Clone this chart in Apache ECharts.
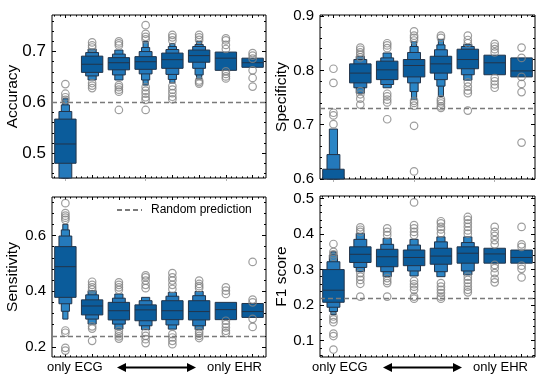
<!DOCTYPE html>
<html><head><meta charset="utf-8">
<script src="https://cdn.jsdelivr.net/npm/echarts@6.0.0/dist/echarts.min.js"></script>
<style>html,body{margin:0;padding:0;background:#fff}#c{width:550px;height:385px}</style>
</head><body><div id="c"></div>
<script>
// ---------------- data ----------------
const categories = ['only ECG', 'mix 1', 'mix 2', 'mix 3', 'mix 4', 'mix 5', 'mix 6', 'only EHR'];
const metricNames = ['Accuracy', 'Specificity', 'Sensitivity', 'F1 score'];
const randomPrediction = [0.603, 0.732, 0.245, 0.222];

// letter-value boxes: per category [ [lo,hi] IQR, [lo,hi] next level, ... ]
const accMedian = [0.518, 0.675, 0.678, 0.680, 0.684, 0.692, 0.687, 0.678];
const accLevels = [
  [[0.480, 0.567], [0.430, 0.582], [0.420, 0.595], [0.410, 0.607]],
  [[0.659, 0.691], [0.652, 0.698], [0.644, 0.705]],
  [[0.664, 0.688], [0.654, 0.695], [0.644, 0.703]],
  [[0.665, 0.690], [0.656, 0.700], [0.644, 0.708], [0.634, 0.720]],
  [[0.667, 0.697], [0.655, 0.704], [0.645, 0.710], [0.638, 0.716]],
  [[0.679, 0.703], [0.667, 0.710], [0.654, 0.714], [0.646, 0.720]],
  [[0.663, 0.699]],
  [[0.669, 0.687]]
];
const accOutliers = [
  [0.636, 0.617, 0.610, 0.605],
  [0.718, 0.712, 0.708, 0.638, 0.633, 0.628],
  [0.720, 0.716, 0.712, 0.634, 0.630, 0.625, 0.621, 0.585],
  [0.752, 0.735, 0.729, 0.724, 0.630, 0.623, 0.617, 0.610, 0.605, 0.585],
  [0.733, 0.728, 0.722, 0.632, 0.625, 0.618, 0.611, 0.606],
  [0.733, 0.728, 0.723, 0.643, 0.640, 0.637],
  [0.726, 0.722, 0.713, 0.705, 0.661, 0.656, 0.651, 0.647],
  [0.697, 0.692, 0.686, 0.663, 0.648, 0.631]
];

const specMedian = [0.570, 0.795, 0.801, 0.809, 0.812, 0.820, 0.814, 0.799];
const specLevels = [
  [[0.550, 0.618], [0.520, 0.645], [0.500, 0.692]],
  [[0.777, 0.812], [0.768, 0.820], [0.758, 0.826]],
  [[0.783, 0.817], [0.774, 0.823], [0.768, 0.832]],
  [[0.788, 0.820], [0.777, 0.833], [0.761, 0.844], [0.746, 0.853]],
  [[0.795, 0.826], [0.783, 0.838], [0.771, 0.847], [0.752, 0.857]],
  [[0.803, 0.839], [0.792, 0.844], [0.782, 0.848]],
  [[0.792, 0.828]],
  [[0.788, 0.823]]
];
const specOutliers = [
  [0.803, 0.777, 0.722, 0.717, 0.701],
  [0.842, 0.838, 0.833, 0.829, 0.824, 0.762, 0.756, 0.748, 0.737],
  [0.850, 0.846, 0.841, 0.757, 0.752, 0.746, 0.741, 0.710],
  [0.872, 0.864, 0.860, 0.855, 0.744, 0.740, 0.735, 0.698, 0.614],
  [0.864, 0.860, 0.747, 0.743, 0.739, 0.734, 0.731],
  [0.864, 0.856, 0.850, 0.778, 0.770, 0.763, 0.758, 0.726],
  [0.849, 0.844, 0.839, 0.833, 0.786, 0.780, 0.774, 0.768],
  [0.842, 0.823, 0.788, 0.775, 0.760, 0.667]
];

const sensMedian = [0.488, 0.347, 0.330, 0.333, 0.330, 0.327, 0.334, 0.327];
const sensLevels = [
  [[0.378, 0.560], [0.355, 0.598], [0.328, 0.620], [0.300, 0.640]],
  [[0.315, 0.369], [0.300, 0.387], [0.282, 0.402]],
  [[0.297, 0.360], [0.282, 0.375], [0.264, 0.390]],
  [[0.294, 0.351], [0.276, 0.366], [0.262, 0.378]],
  [[0.298, 0.366], [0.279, 0.382], [0.264, 0.396]],
  [[0.297, 0.366], [0.276, 0.384], [0.262, 0.399]],
  [[0.298, 0.360]],
  [[0.306, 0.356]]
];
const sensOutliers = [
  [0.716, 0.680, 0.671, 0.664, 0.656, 0.259, 0.251, 0.197, 0.187],
  [0.434, 0.423, 0.414, 0.406, 0.274, 0.266, 0.222],
  [0.432, 0.423, 0.414, 0.405, 0.258, 0.246, 0.238, 0.230],
  [0.457, 0.450, 0.438, 0.423, 0.411, 0.252, 0.240, 0.228, 0.214],
  [0.465, 0.450, 0.438, 0.423, 0.408, 0.246, 0.234, 0.222, 0.210],
  [0.438, 0.426, 0.418, 0.411, 0.256, 0.248, 0.240, 0.232],
  [0.414, 0.402, 0.390, 0.294, 0.282, 0.270, 0.258, 0.250],
  [0.505, 0.370, 0.360, 0.301, 0.272]
];

const f1Median = [0.242, 0.343, 0.336, 0.334, 0.338, 0.346, 0.344, 0.334];
const f1Levels = [
  [[0.208, 0.300], [0.194, 0.322], [0.182, 0.341], [0.173, 0.350]],
  [[0.320, 0.364], [0.306, 0.385], [0.294, 0.402]],
  [[0.308, 0.357], [0.294, 0.371], [0.280, 0.388]],
  [[0.311, 0.355], [0.296, 0.369], [0.282, 0.385]],
  [[0.315, 0.360], [0.294, 0.378], [0.280, 0.392]],
  [[0.318, 0.364], [0.296, 0.376], [0.285, 0.392]],
  [[0.318, 0.360]],
  [[0.318, 0.355]]
];
const f1Outliers = [
  [0.372, 0.350, 0.343, 0.336, 0.168, 0.160, 0.152, 0.120, 0.113, 0.075],
  [0.419, 0.412, 0.406, 0.290, 0.280, 0.271, 0.260, 0.224],
  [0.416, 0.406, 0.397, 0.276, 0.268, 0.262, 0.224],
  [0.489, 0.425, 0.416, 0.406, 0.397, 0.268, 0.259, 0.252, 0.243, 0.224, 0.218],
  [0.436, 0.430, 0.420, 0.413, 0.402, 0.262, 0.252, 0.243, 0.234, 0.224, 0.218],
  [0.448, 0.440, 0.430, 0.420, 0.410, 0.401, 0.280, 0.271, 0.262, 0.252, 0.243, 0.236],
  [0.420, 0.406, 0.395, 0.383, 0.371, 0.313, 0.304, 0.290, 0.274, 0.264],
  [0.420, 0.371, 0.364, 0.311, 0.302, 0.278]
];

// axis ranges and ticks
const yMin = [0.451, 0.600, 0.164, 0.054];
const yMax = [0.772, 0.902, 0.738, 0.507];
const yTicks = [[0.5, 0.6, 0.7], [0.6, 0.7, 0.8, 0.9], [0.2, 0.4, 0.6], [0.1, 0.2, 0.3, 0.4, 0.5]];
const yMinorStep = [0.02, 0.02, 0.04, 0.02];

// ---------------- layout / style ----------------
const grids = [
  {left: 52, top: 15, width: 214, height: 163},
  {left: 320, top: 15, width: 215, height: 164},
  {left: 52, top: 197, width: 214, height: 160},
  {left: 320, top: 196, width: 215, height: 161}
];
const tickFont = [17, 15, 15, 15];
const nameGap = [31, 30, 31, 30];
const LEVEL_COLORS = ['#0b5c9b', '#2479bb', '#2b85c5', '#348ecb', '#3e97d0'];
const WIDTH_FRAC = [1, 0.6, 0.38, 0.24, 0.15];
const EDGE = '#22344a';
const FONT = 'Liberation Sans, Arial, Helvetica, sans-serif';

const medians = [accMedian, specMedian, sensMedian, f1Median];
const levels = [accLevels, specLevels, sensLevels, f1Levels];
const outliers = [accOutliers, specOutliers, sensOutliers, f1Outliers];

function rangeVals(a, b, step) {
  const out = [];
  const n0 = Math.ceil(a / step - 1e-9), n1 = Math.floor(b / step + 1e-9);
  for (let n = n0; n <= n1; n++) out.push(+(n * step).toFixed(4));
  return out;
}
const xMinor = rangeVals(-0.5, 7.5, 0.2).filter(v => Math.abs(v - Math.round(v)) > 1e-6);
const xMajor = [0, 1, 2, 3, 4, 5, 6, 7];

const xAxes = [], yAxes = [], series = [];
grids.forEach((g, gi) => {
  const xb = xAxes.length, yb = yAxes.length;
  xAxes.push({type: 'category', gridIndex: gi, data: categories, boundaryGap: true,
    axisLine: {show: false, onZero: false},
    axisTick: {show: gi < 2, alignWithLabel: true, inside: false, length: 3, lineStyle: {color: '#b0b0b0'}},
    axisLabel: {show: false}, splitLine: {show: false}});
  ['bottom', 'top'].forEach(pos => {
    [[xMinor, 1.6], [xMajor, 3]].forEach(([vals, len]) => {
      xAxes.push({type: 'value', gridIndex: gi, position: pos, min: -0.5, max: 7.5,
        axisLine: {show: false, onZero: false},
        axisTick: {show: true, inside: true, length: len, customValues: vals, lineStyle: {color: '#000', width: 1}},
        axisLabel: {show: false, customValues: vals}, splitLine: {show: false}});
    });
  });
  const minors = rangeVals(yMin[gi], yMax[gi], yMinorStep[gi]).filter(v => !yTicks[gi].some(t => Math.abs(t - v) < 1e-6));
  ['left', 'right'].forEach(pos => {
    yAxes.push({type: 'value', gridIndex: gi, position: pos, min: yMin[gi], max: yMax[gi],
      axisLine: {show: false, onZero: false},
      axisTick: {show: true, inside: true, length: 4, customValues: yTicks[gi], lineStyle: {color: '#000'}},
      axisLabel: {show: pos === 'left', customValues: yTicks[gi], formatter: v => (+v).toFixed(1),
        fontSize: tickFont[gi], color: '#000', margin: 6, fontFamily: FONT},
      splitLine: {show: false},
      name: pos === 'left' ? metricNames[gi] : '', nameLocation: 'middle', nameGap: nameGap[gi],
      nameMoveOverlap: false,
      nameTextStyle: {fontSize: 15.5, color: '#000', fontFamily: FONT}});
    yAxes.push({type: 'value', gridIndex: gi, position: pos, min: yMin[gi], max: yMax[gi],
      axisLine: {show: false, onZero: false},
      axisTick: {show: true, inside: true, length: 2, customValues: minors, lineStyle: {color: '#000'}},
      axisLabel: {show: false, customValues: minors}, splitLine: {show: false}});
  });

  const med = medians[gi], lv = levels[gi];
  series.push({
    type: 'custom', xAxisIndex: xb, yAxisIndex: yb, z: 3,
    data: categories.map((c, i) => [i, med[i]]),
    encode: {x: 0, y: 1},
    renderItem: function (params, api) {
      const i = params.dataIndex;
      const L = lv[i];
      const cs = params.coordSys;
      const band = api.size([1, 0])[0];
      const cx = api.coord([i, med[i]])[0];
      const children = [];
      for (let j = L.length - 1; j >= 0; j--) {
        const w = band * 0.8 * WIDTH_FRAC[j];
        let yT = api.coord([i, L[j][1]])[1];
        let yB = api.coord([i, L[j][0]])[1];
        yT = Math.max(yT, cs.y); yB = Math.min(yB, cs.y + cs.height);
        if (yB <= yT) continue;
        children.push({type: 'rect', shape: {x: cx - w / 2, y: yT, width: w, height: yB - yT},
          style: {fill: LEVEL_COLORS[j], stroke: EDGE, lineWidth: 1}});
      }
      const my = api.coord([i, med[i]])[1];
      if (my >= cs.y && my <= cs.y + cs.height) {
        const w0 = band * 0.8;
        children.push({type: 'line', shape: {x1: cx - w0 / 2, y1: my, x2: cx + w0 / 2, y2: my},
          style: {stroke: EDGE, lineWidth: 1}});
      }
      return {type: 'group', children: children};
    }
  });
  const pts = [];
  outliers[gi].forEach((arr, i) => arr.forEach(v => pts.push([i, v])));
  series.push({
    type: 'scatter', xAxisIndex: xb, yAxisIndex: yb, z: 4, silent: true,
    data: pts, symbol: 'circle', symbolSize: 7.5,
    itemStyle: {color: 'rgba(255,255,255,0)', borderColor: '#858585', borderWidth: 1.2}
  });
  series.push({
    type: 'line', name: gi === 2 ? 'Random prediction' : undefined,
    xAxisIndex: xb, yAxisIndex: yb, z: 5, data: [], symbol: 'none', showSymbol: false,
    lineStyle: {type: [5, 3], color: '#7a7a7a', width: 1.3},
    itemStyle: {color: '#7a7a7a', opacity: 0},
    markLine: {silent: true, symbol: ['none', 'none'], label: {show: false}, z: 5,
      lineStyle: {type: [5, 3], color: '#7a7a7a', width: 1.3},
      data: [{yAxis: randomPrediction[gi]}]}
  });
});

function arrow(x1, x2, y) {
  return [
    {type: 'line', shape: {x1: x1 + 7, y1: y, x2: x2 - 7, y2: y}, style: {stroke: '#000', lineWidth: 2}},
    {type: 'polygon', shape: {points: [[x1, y], [x1 + 9, y - 4.5], [x1 + 9, y + 4.5]]}, style: {fill: '#000'}},
    {type: 'polygon', shape: {points: [[x2, y], [x2 - 9, y - 4.5], [x2 - 9, y + 4.5]]}, style: {fill: '#000'}}
  ];
}
function label(txt, x, y) {
  return {type: 'text', x: x, y: y, style: {text: txt, fontSize: 13, fontFamily: FONT, fill: '#000', verticalAlign: 'middle', align: 'left'}};
}

const chart = echarts.init(document.getElementById('c'), null, {renderer: 'canvas'});
chart.setOption({
  animation: false,
  textStyle: {fontFamily: FONT},
  grid: grids.map(g => Object.assign({show: true, borderColor: '#000', borderWidth: 1, backgroundColor: 'rgba(0,0,0,0)'}, g)),
  xAxis: xAxes,
  yAxis: yAxes,
  legend: {data: ['Random prediction'], left: 111, top: 199, itemWidth: 25, itemHeight: 10,
    itemStyle: {opacity: 0},
    textStyle: {fontSize: 12, color: '#000', fontFamily: FONT, padding: [0, 0, 0, 4]}},
  graphic: [].concat(
    [label(categories[0], 47, 367), label(categories[7], 207, 367),
     label(categories[0], 312, 367), label(categories[7], 473, 367)],
    arrow(117, 196, 367.5), arrow(383, 462, 367.5)
  ),
  series: series
});
</script>
</body></html>
